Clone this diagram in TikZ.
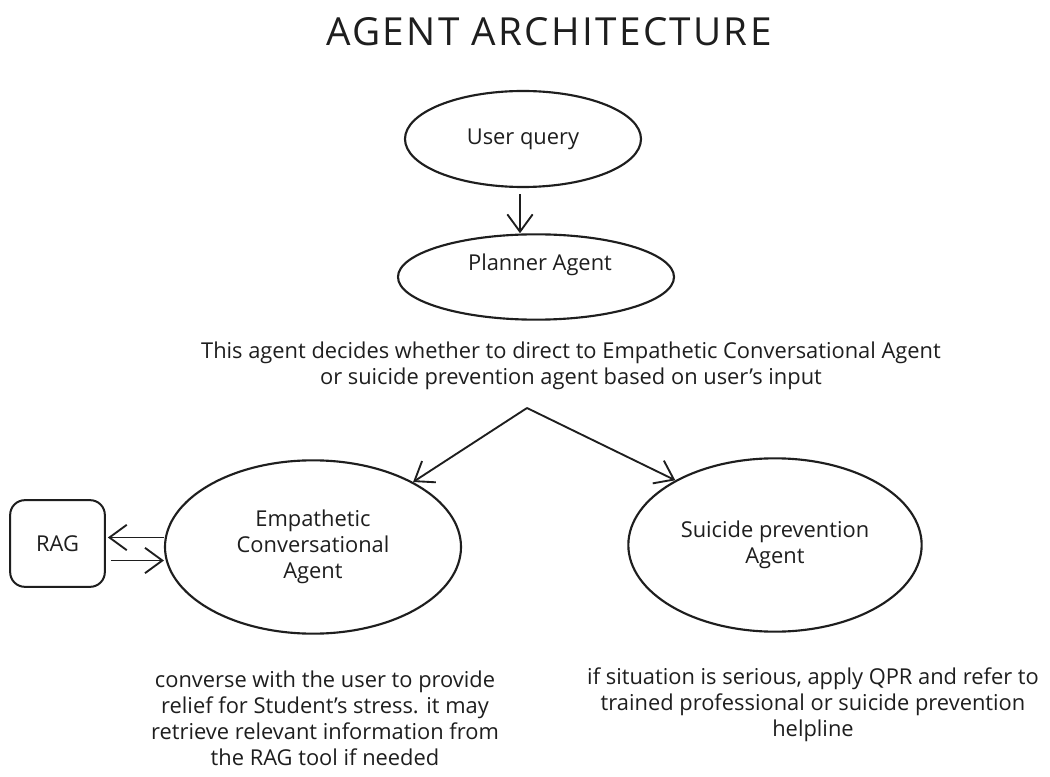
\documentclass[tikz,border=0pt]{standalone}
\usepackage{fontspec}
\setmainfont{Open Sans}
\usepackage{xcolor}
\usepackage{tikz}
\usetikzlibrary{calc,arrows.meta,shapes.geometric}
\definecolor{ink}{HTML}{1E1E1E}
\definecolor{paper}{HTML}{FFFFFF}
\tikzset{
  oval/.style={draw=ink, ellipse, line width=1.6pt, inner sep=0pt, align=center,
    font=\fontsize{16.4}{19.5}\selectfont, text=ink},
  box/.style={draw=ink, rectangle, rounded corners=11pt, line width=1.5pt, inner sep=0pt,
    font=\fontsize{16.4}{19.5}\selectfont, text=ink},
  arr/.style={draw=ink, line width=1.4pt, -{Straight Barb[length=13pt, width=19pt, line width=1.4pt]}},
  note/.style={text=ink, align=center, font=\fontsize{16.4}{19.5}\selectfont, inner sep=0pt},
  ttl/.style={text=ink, font=\fontsize{29}{32}\selectfont\addfontfeature{LetterSpace=6}}
}

\begin{document}
\begin{tikzpicture}[x=0.75pt, y=-0.75pt]
  \useasboundingbox[fill=paper] (0,0) rectangle (1050,777);

  \node[ttl] (title) at (549,32) {AGENT ARCHITECTURE};

  \node[oval, minimum width=177pt, minimum height=72pt] (uq) at (523,139) {User query};
  \node[oval, minimum width=207pt, minimum height=64pt] (planner) at (536,277) {};
  \node[note] (plannertext) at (540,265) {Planner Agent};
  \draw[arr] ([xshift=-2.25pt, yshift=-4.5pt]uq.south) -- ([xshift=-2.25pt]uq.south |- planner.north);

  \node[note] (desc) at (571,366) {This agent decides whether to direct to Empathetic Conversational Agent\\
    or suicide prevention agent based on user's input};
  \coordinate (split) at (527,408);

  \node[oval, minimum width=222pt, minimum height=130pt] (emp) at (313,547) {Empathetic\\Conversational\\Agent};
  \node[oval, minimum width=220pt, minimum height=130pt] (suicide) at (775,545) {Suicide prevention\\Agent};
  \node[box, minimum width=71pt, minimum height=65pt] (rag) at (57.5,543.5) {RAG};

  \draw[arr] (split) -- (emp);
  \draw[arr] (split) -- (suicide.147);
  \draw[arr] ([yshift=4.5pt]rag.east -| emp.west) -- ([yshift=4.5pt, xshift=1.5pt]rag.east);
  \draw[arr] ([yshift=-12.75pt, xshift=3.75pt]rag.east) -- ([yshift=-12.75pt]rag.east -| emp.west);

  \node[note] (empnote) at (325,718) {converse with the user to provide\\relief for Student's stress. it may\\
    retrieve relevant information from\\the RAG tool if needed};
  \node[note] (suicidenote) at (813,705) {if situation is serious, apply QPR and refer to\\
    trained professional or suicide prevention\\helpline};
\end{tikzpicture}
\end{document}
